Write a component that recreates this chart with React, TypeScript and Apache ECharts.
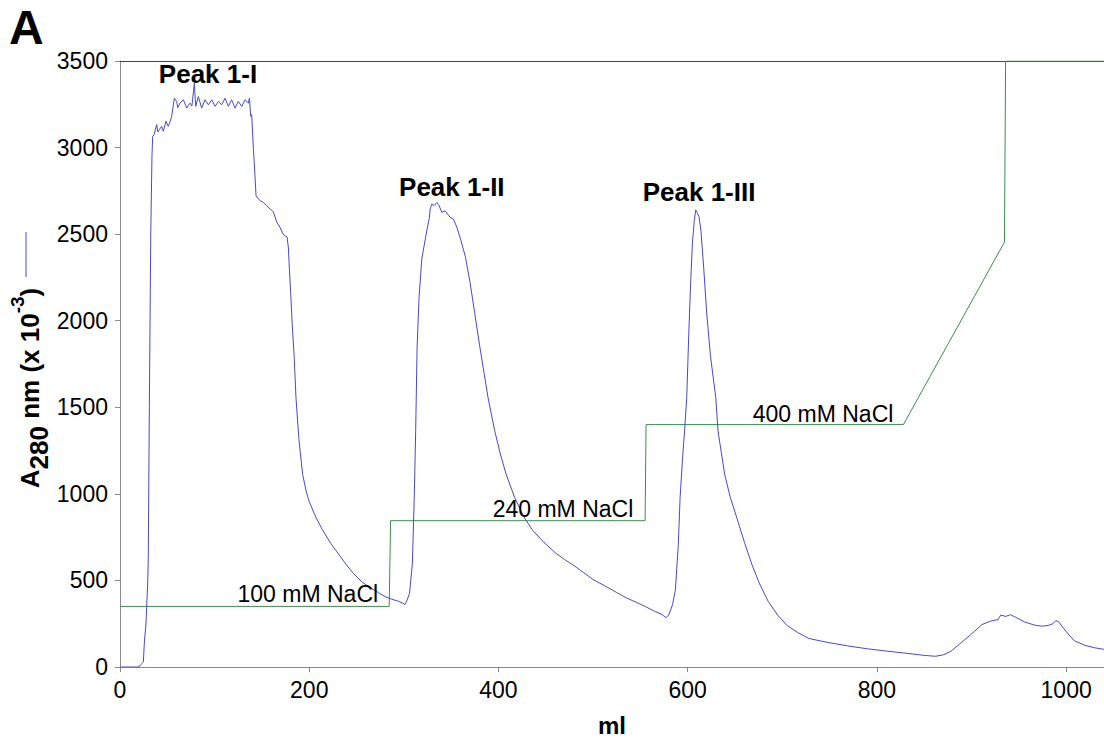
import React, { useEffect, useRef } from "react";
import * as echarts from "echarts";

// Absorbance trace (A280 x 10^-3) vs elution volume (ml)
const absorbanceMl = [
  0, 19, 21, 23, 24.7, 25.7, 27.5, 28.2, 29.3, 29.9, 31, 32.5, 33.8, 34.5, 36, 38.8, 40, 41.6, 44, 45.8,
  48.6, 51, 53, 54.6, 57.4, 59.9, 61, 63.4, 67, 70.5, 74, 76, 78.6, 80, 82.8, 86.3, 89.9, 93.4, 97, 100.5,
  104, 107.5, 111, 114.5, 118, 121.6, 125, 128.7, 132.2, 135.7, 136.8, 138.2, 139.2, 141, 141.7, 143.8, 148, 151.5, 155, 158.6,
  162, 165.7, 169, 172.4, 174.5, 176.6, 178, 179, 180.5, 182, 184, 186, 189, 193, 197, 200, 207, 214, 223, 233,
  240, 247, 256, 266, 273, 280, 287, 294.6, 299, 301, 303, 306, 309, 311, 312.5, 314, 316, 319, 323.6, 327,
  327.8, 329.6, 332, 334.9, 337.3, 340, 343.7, 347, 349, 352.4, 356, 360, 365, 370, 375, 380, 385, 389, 396, 402,
  408, 417, 427, 436, 448, 460, 470, 480, 490, 500, 512, 525, 535, 545, 555, 565, 573, 577, 580, 584,
  587, 590, 592, 594.5, 596.7, 599, 601, 603, 605, 607, 608.5, 610, 612, 614, 617, 620, 624, 629.7, 632, 639,
  645, 652, 660, 668, 676, 685, 695, 705, 716, 728, 745, 769, 790, 810, 830, 850, 862, 870, 878, 891,
  903, 911, 920, 928, 931, 936, 941, 945, 956, 968, 975, 981, 986, 989, 992, 997, 1003, 1009, 1020, 1030, 1040,
];
const absorbance = [
  0, 0, 6, 20, 29, 139, 254, 350, 484, 637, 1500, 2500, 2950, 3062, 3075, 3133, 3090, 3104, 3123, 3094,
  3152, 3123, 3150, 3180, 3285, 3266, 3230, 3257, 3276, 3228, 3257, 3240, 3372, 3238, 3295, 3228, 3276, 3247, 3276, 3238,
  3266, 3247, 3285, 3238, 3276, 3228, 3266, 3238, 3276, 3257, 3285, 3180, 3190, 2989, 2932, 2721, 2693, 2683, 2664, 2645,
  2630, 2569, 2540, 2500, 2490, 2484, 2420, 2300, 2150, 1980, 1800, 1555, 1320, 1113, 1010, 955, 865, 792, 712, 637,
  585, 539, 490, 453, 430, 407, 392, 379, 368, 360, 380, 425, 597, 981, 1365, 1842, 2128, 2358, 2500, 2597,
  2645, 2674, 2665, 2683, 2664, 2626, 2635, 2610, 2597, 2588, 2540, 2470, 2370, 2220, 2040, 1860, 1690, 1555, 1365, 1230,
  1115, 980, 866, 790, 720, 660, 620, 585, 545, 505, 470, 430, 400, 375, 350, 322, 302, 285, 300, 360,
  446, 700, 981, 1200, 1365, 1555, 1900, 2200, 2450, 2580, 2640, 2625, 2600, 2520, 2300, 2050, 1800, 1555, 1365, 1115,
  980, 860, 720, 590, 480, 380, 300, 240, 200, 165, 145, 122, 105, 92, 80, 67, 62, 70, 90, 149,
  205, 245, 265, 274, 300, 292, 302, 292, 260, 240, 236, 240, 250, 268, 262, 225, 185, 150, 125, 111, 102,
];

// NaCl step gradient (drawn on the same scale)
const saltMl = [0, 284.5, 286, 555, 556, 828, 934.8, 936, 1040];
const saltLevel = [350, 350, 845, 845, 1400, 1400, 2454, 3500, 3500];

// Annotations
const peakNames = ["Peak 1-I", "Peak 1-II", "Peak 1-III"];
const peakMl = [93, 350.7, 612];
const peakY = [3425, 2774, 2745];
const saltNames = ["100 mM NaCl", "240 mM NaCl", "400 mM NaCl"];
const saltLabelMl = [272.8, 542.5, 817.4];
const saltLabelY = [422, 915, 1463];

const xTicks = [0, 200, 400, 600, 800, 1000];
const yTicks = [0, 500, 1000, 1500, 2000, 2500, 3000, 3500];

const FONT = "'Liberation Sans', Arial, Helvetica, sans-serif";
const BLUE = "#4a4ac0";
const GREEN = "#3f8a52";

export default function App() {
  const ref = useRef<HTMLDivElement>(null);
  useEffect(() => {
    if (!ref.current) return;
    const chart = echarts.init(ref.current, null, { renderer: "svg" });
    const blueData = absorbanceMl.map((x, i) => [x, absorbance[i]]);
    const greenData = saltMl.map((x, i) => [x, saltLevel[i]]);
    const peakData = peakNames.map((n, i) => ({ value: [peakMl[i], peakY[i]], name: n }));
    const saltData = saltNames.map((n, i) => ({ value: [saltLabelMl[i], saltLabelY[i]], name: n }));
    chart.setOption({
      animation: false,
      textStyle: { fontFamily: FONT },
      grid: { left: 120, top: 61, right: 0, bottom: 71, containLabel: false },
      xAxis: [
        {
          type: "value",
          min: 0,
          max: 1040,
          interval: 200,
          axisLine: { show: true, lineStyle: { color: "#8a8a8a", width: 1 } },
          axisTick: { show: true, length: 5, lineStyle: { color: "#8a8a8a" }, customValues: xTicks },
          axisLabel: {
            customValues: xTicks,
            fontSize: 23,
            color: "#000",
            margin: 11,
            fontFamily: FONT,
            formatter: (v: number) => String(v),
          },
          splitLine: { show: false },
          name: "ml",
          nameLocation: "middle",
          nameGap: 46,
          nameTextStyle: { fontSize: 24, fontWeight: "bold", color: "#000", fontFamily: FONT },
        },
        {
          type: "value",
          position: "top",
          min: 0,
          max: 1040,
          axisLine: { show: true, lineStyle: { color: "#444", width: 1 } },
          axisTick: { show: false },
          axisLabel: { show: false },
          splitLine: { show: false },
        },
      ],
      yAxis: {
        type: "value",
        min: 0,
        max: 3500,
        interval: 500,
        axisLine: { show: true, lineStyle: { color: "#8a8a8a", width: 1 } },
        axisTick: { show: true, length: 5, lineStyle: { color: "#8a8a8a" }, customValues: yTicks },
        axisLabel: {
          fontSize: 23,
          color: "#000",
          margin: 12,
          fontFamily: FONT,
          formatter: (v: number) => String(v),
        },
        splitLine: { show: false },
      },
      series: [
        {
          type: "line",
          data: greenData,
          symbol: "none",
          lineStyle: { color: GREEN, width: 1 },
          z: 2,
        },
        {
          type: "line",
          data: blueData,
          symbol: "none",
          lineStyle: { color: BLUE, width: 1 },
          z: 3,
        },
        {
          type: "scatter",
          data: peakData,
          symbolSize: 0,
          z: 4,
          itemStyle: { opacity: 1 },
          label: {
            show: true,
            position: "inside",
            formatter: (p: any) => p.name,
            fontSize: 26,
            fontWeight: "bold",
            color: "#000",
            opacity: 1,
            fontFamily: FONT,
          },
        },
        {
          type: "scatter",
          data: saltData,
          symbolSize: 0,
          z: 4,
          itemStyle: { opacity: 1 },
          label: {
            show: true,
            position: "left",
            distance: 0,
            formatter: (p: any) => p.name,
            fontSize: 23,
            color: "#000",
            opacity: 1,
            fontFamily: FONT,
          },
        },
      ],
      graphic: [
        {
          type: "text",
          left: 9,
          top: 3,
          style: { text: "A", fontSize: 48, fontWeight: "bold", fill: "#000", fontFamily: FONT },
        },
        {
          type: "text",
          x: 30,
          y: 388,
          rotation: Math.PI / 2,
          style: {
            text: "{a|A}{s|280}{a| nm (x 10}{p|-3}{a|)}",
            align: "center",
            verticalAlign: "middle",
            fill: "#000",
            fontFamily: FONT,
            rich: {
              a: { fontSize: 26, fontWeight: "bold", lineHeight: 44, verticalAlign: "middle", fontFamily: FONT, fill: "#000" },
              s: { fontSize: 26, fontWeight: "bold", lineHeight: 30, verticalAlign: "bottom", fontFamily: FONT, fill: "#000" },
              p: { fontSize: 19, fontWeight: "bold", lineHeight: 22, verticalAlign: "top", fontFamily: FONT, fill: "#000" },
            },
          },
        },
        {
          type: "line",
          shape: { x1: 26, y1: 232, x2: 26, y2: 277 },
          style: { stroke: BLUE, lineWidth: 1 },
        },
      ],
    });
    return () => chart.dispose();
  }, []);
  return (
    <div
      ref={ref}
      style={{ position: "fixed", left: 0, top: 0, width: 1104, height: 742, background: "#fff" }}
    />
  );
}
